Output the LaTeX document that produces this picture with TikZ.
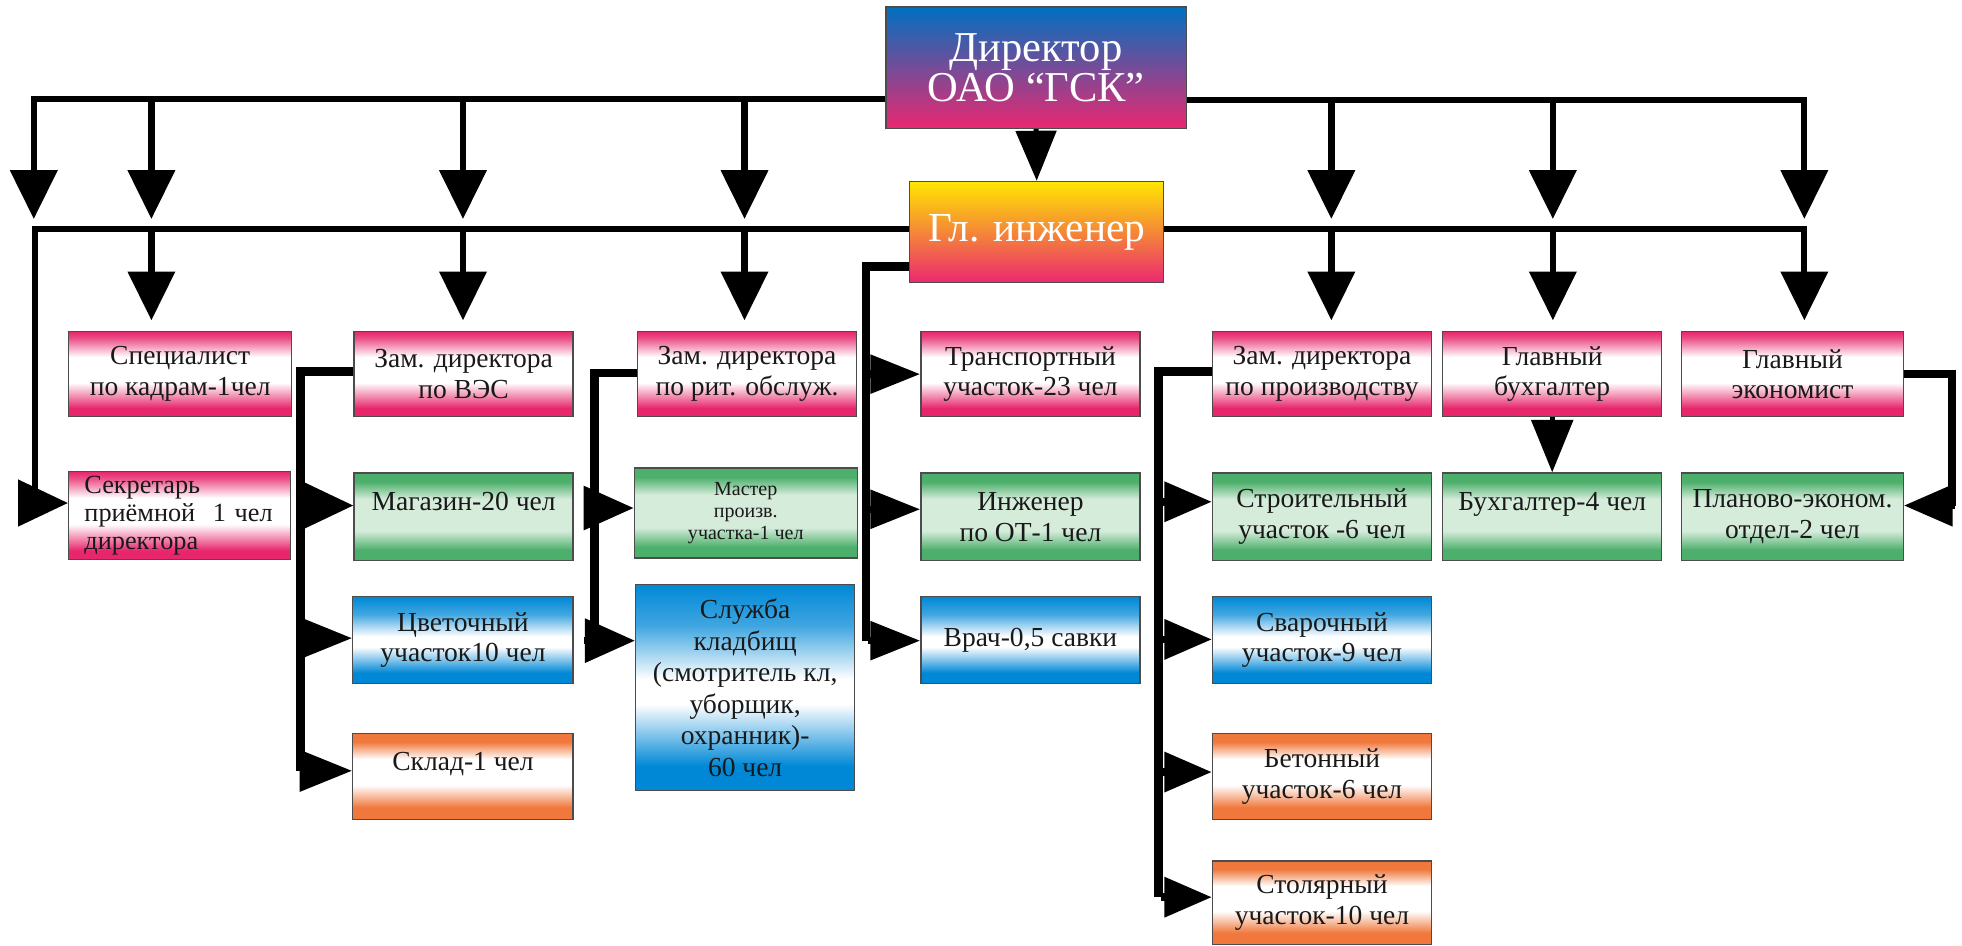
\documentclass[tikz,border=0pt]{standalone}
\usepackage{fontspec}
\setmainfont{Liberation Serif}
\newfontfamily\tnr{Liberation Serif}
\usetikzlibrary{arrows.meta}
\definecolor{pk}{RGB}{231,38,107}
\definecolor{gr}{RGB}{76,175,107}
\definecolor{grl}{RGB}{214,236,219}
\definecolor{bl}{RGB}{0,136,214}
\definecolor{org}{RGB}{240,120,60}
\definecolor{dbl}{RGB}{0,112,192}
\definecolor{dpk}{RGB}{234,40,112}
\definecolor{yel}{RGB}{255,230,0}
\pgfdeclareverticalshading{pinkS}{100bp}{color(0bp)=(pk); color(25bp)=(pk); color(30bp)=(pk); color(45bp)=(white); color(60bp)=(white); color(71bp)=(pk!80); color(75bp)=(pk); color(100bp)=(pk)}
\pgfdeclareverticalshading{greenS}{100bp}{color(0bp)=(gr); color(25bp)=(gr); color(31bp)=(gr); color(42bp)=(grl); color(60bp)=(grl); color(70bp)=(gr); color(75bp)=(gr); color(100bp)=(gr)}
\pgfdeclareverticalshading{blueS}{100bp}{color(0bp)=(bl); color(25bp)=(bl); color(31bp)=(bl); color(46bp)=(white); color(52bp)=(white); color(65bp)=(bl!75); color(75bp)=(bl); color(100bp)=(bl)}
\pgfdeclareverticalshading{orangeS}{100bp}{color(0bp)=(org); color(25bp)=(org); color(32bp)=(org); color(45bp)=(white); color(60bp)=(white); color(70bp)=(org); color(75bp)=(org); color(100bp)=(org)}
\pgfdeclareverticalshading{dirS}{100bp}{color(0bp)=(dpk); color(25bp)=(dpk); color(75bp)=(dbl); color(100bp)=(dbl)}
\pgfdeclareverticalshading{ingS}{100bp}{color(0bp)=(dpk); color(25bp)=(dpk); color(75bp)=(yel); color(100bp)=(yel)}
\tikzset{
  box/.style={draw=black!70, line width=0.5pt, inner sep=1pt, align=center, text=black!90,
    font=\tnr\fontsize{11}{12.3}\selectfont, minimum width=87.5pt, minimum height=34.5pt},
  pinkbox/.style={box, shade, shading=pinkS},
  greenbox/.style={box, shade, shading=greenS},
  bluebox/.style={box, shade, shading=blueS},
  orangebox/.style={box, shade, shading=orangeS},
  hi/.style={text depth=12pt},
  bus/.style={line width=2.5pt},
  conn/.style={line width=3.4pt},
  dn/.style={line width=2.5pt, -{Triangle[width=18.5pt,length=19.5pt]}},
  rt/.style 2 args={line width=3pt, -{Triangle[width=#1,length=#2]}},
}
\begin{document}
\begin{tikzpicture}[x=0.5pt,y=-0.5pt]
\useasboundingbox (0,0) rectangle (1568,756);
% top
\node[draw=black!70, line width=0.5pt, shade, shading=dirS, minimum width=120pt, minimum height=48.5pt,
  align=center, text=white, font=\tnr\fontsize{17}{16}\selectfont, inner sep=0pt] (dir) at (828,54) {Директор\\ОАО “ГСК”};
\node[draw=black!70, line width=0.5pt, shade, shading=ingS, minimum width=101.5pt, minimum height=40.5pt,
  text=white, font=\tnr\fontsize{16.5}{18}\selectfont, inner sep=0pt] (ing) at (828.5,185.5) {Гл. инженер};
% row 1
\node[pinkbox, minimum width=89pt, minimum height=34pt] (spec) at (144,299) {Специалист\\по кадрам-1чел};
\node[pinkbox, minimum height=34pt] (zves) at (370.5,299) {Зам. директора\\по ВЭС};
\node[pinkbox, minimum height=34pt] (zrit) at (597,299) {Зам. директора\\по рит. обслуж.};
\node[pinkbox, minimum height=34pt] (trans) at (823.5,299) {Транспортный\\участок-23 чел};
\node[pinkbox, minimum height=34pt] (zpr) at (1056.5,299) {Зам. директора\\по производству};
\node[pinkbox, minimum height=34pt] (gbuh) at (1240.5,299) {Главный\\бухгалтер};
\node[pinkbox, minimum height=34pt, minimum width=88.5pt] (gek) at (1432.5,299) {Главный\\экономист};
% row 2
\node[pinkbox, minimum width=88.5pt, minimum height=35pt, text width=76pt, align=left,
  font=\tnr\fontsize{10.5}{11.3}\selectfont] (sek) at (143.5,412) {Секретарь\\приёмной\ \ 1 чел\\директора};
\node[greenbox, hi, minimum height=35pt] (mag) at (370.5,413) {Магазин-20 чел};
\node[greenbox, minimum width=89pt, minimum height=36pt, font=\tnr\fontsize{8}{8.7}\selectfont] (mast) at (596,410) {Мастер\\произв.\\участка-1 чел};
\node[greenbox, minimum height=35pt] (inzh) at (823.5,413) {Инженер\\по ОТ-1 чел};
\node[greenbox, minimum height=35pt] (stroi) at (1056.5,413) {Строительный\\участок -6 чел};
\node[greenbox, hi, minimum height=35pt] (buh) at (1240.5,413) {Бухгалтер-4 чел};
\node[greenbox, minimum height=35pt, minimum width=88.5pt] (plan) at (1432.5,413) {Планово-эконом.\\отдел-2 чел};
% row 3
\node[bluebox, minimum width=88pt] (cvet) at (370,511.5) {Цветочный\\участок10 чел};
\node[bluebox, minimum height=82.5pt, font=\tnr\fontsize{11}{12.6}\selectfont] (sluzh) at (595.5,549.5) {Служба\\кладбищ\\(смотритель кл,\\уборщик,\\охранник)-\\60 чел};
\node[bluebox] (vrach) at (823.5,511.5) {Врач-0,5 савки};
\node[bluebox] (svar) at (1056.5,511.5) {Сварочный\\участок-9 чел};
% row 4
\node[orangebox, hi, minimum width=88pt] (sklad) at (370,620.5) {Склад-1 чел};
\node[orangebox] (beton) at (1056.5,620.5) {Бетонный\\участок-6 чел};
\node[orangebox, minimum height=33.5pt] (stol) at (1056.5,721.5) {Столярный\\участок-10 чел};

% top bus and arrows
\draw[dn] (dir.west |- 0,79) -| (27,175);
\foreach \x in {121,370,595} \draw[dn] (\x,79) -- (\x,175);
\draw[dn] (dir.east |- 0,80) -| (1442,175);
\foreach \x in {1064,1241} \draw[dn] (\x,80) -- (\x,175);
\draw[line width=2pt, -{Triangle[width=16pt,length=20pt]}] (dir.south) -- (ing.north);
% second bus
\draw[bus] (ing.west |- 0,183) -| (28,402);
\draw[rt={18pt}{20pt}] (14,402) -- (sek.west |- 0,402);
\foreach \x in {121,370,595} \draw[dn] (\x,183) -- (\x,256);
\draw[dn] (ing.east |- 0,183) -| (1442,256);
\foreach \x in {1064,1241} \draw[dn] (\x,183) -- (\x,256);
% VES group
\draw[conn] (zves.west |- 0,297) -| (240,616);
\draw[rt={19pt}{21pt}] (240,404) -- (mag.west |- 0,404);
\draw[rt={16pt}{21pt}] (240,510) -- (cvet.west |- 0,510);
\draw[rt={16pt}{21pt}] (240,616) -- (sklad.west |- 0,616);
% rit group
\draw[conn] (zrit.west |- 0,298) -| (475,512);
\draw[rt={17pt}{20pt}] (467,406) -- (mast.west |- 0,406);
\draw[rt={17pt}{20pt}] (467,512) -- (sluzh.west |- 0,512);
% engineer group
\draw[conn] (ing.west |- 0,213) -| (692,512);
\draw[rt={15pt}{20pt}] (694,299) -- (trans.west |- 0,299);
\draw[rt={15pt}{20pt}] (694,407) -- (inzh.west |- 0,407);
\draw[rt={15pt}{20pt}] (694,512) -- (vrach.west |- 0,512);
% production group
\draw[conn] (zpr.west |- 0,297) -| (926,717);
\draw[rt={15.5pt}{19pt}] (928,401) -- (stroi.west |- 0,401);
\draw[rt={15.5pt}{19pt}] (928,511) -- (svar.west |- 0,511);
\draw[rt={15.5pt}{19pt}] (928,617) -- (beton.west |- 0,617);
\draw[rt={15.5pt}{19pt}] (928,717) -- (stol.west |- 0,717);
% accountant
\draw[line width=2pt, -{Triangle[width=16.5pt,length=21pt]}] (gbuh.south) -- (buh.north);
% economist
\draw[conn] (gek.east |- 0,299) -| (1560,404);
\draw[rt={16pt}{19.5pt}] (1562,404) -- (plan.east |- 0,404);
\end{tikzpicture}
\end{document}
